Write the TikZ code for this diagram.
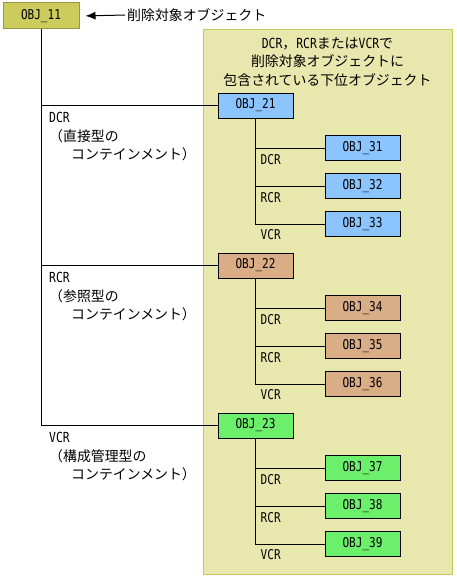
\documentclass[tikz,border=0pt]{standalone}
\usepackage{fontspec}
\usetikzlibrary{arrows.meta}
\newfontfamily\jfont{Noto Sans CJK JP}
\newfontfamily\lfont[FakeStretch=0.82]{DejaVu Sans Mono}
\newcommand\lt[1]{{\lfont #1}}
\definecolor{oliveA}{RGB}{204,204,92}
\definecolor{oliveB}{RGB}{150,150,70}
\definecolor{panelF}{RGB}{232,232,174}
\definecolor{panelD}{RGB}{200,200,90}
\definecolor{blueF}{RGB}{140,196,255}
\definecolor{brownF}{RGB}{217,173,134}
\definecolor{greenF}{RGB}{108,240,108}
\tikzset{
  txt/.style={font=\jfont\fontsize{13.9}{18.5}\selectfont, inner sep=0pt},
  objbox/.style={draw=black, line width=1pt, minimum width=75pt, minimum height=25pt, inner sep=0pt, font=\lfont\fontsize{13.5}{16}\selectfont},
  conn/.style={draw=black, line width=1pt},
  lbl/.style={txt, anchor=west},
  side/.style={txt, anchor=north west, align=left}
}
\begin{document}
\begin{tikzpicture}[x=1pt,y=-1pt]
\useasboundingbox (0,0) rectangle (457,578);
% panel
\draw[fill=panelF, draw=panelD, line width=1pt] (203.5,29.5) rectangle (452,574);
\node[txt, align=center] (title) at (327.5,62) {\lt{DCR}，\lt{RCR}または\lt{VCR}で\\削除対象オブジェクトに\\包含されている下位オブジェクト};
% top object
\node[objbox, fill=oliveA, draw=oliveB, minimum width=76pt, minimum height=26pt] (O11) at (41,16) {OBJ\_11};
\node[lbl] (del) at (127,15) {削除対象オブジェクト};
\draw[conn, -{Latex[length=10pt,width=8pt]}, shorten >=6pt, shorten <=2pt] (del.west) -- (O11.east);
% level 1
\node[objbox, fill=blueF] (O21) at (255.5,105.5) {OBJ\_21};
\node[objbox, fill=brownF] (O22) at (255.5,265.5) {OBJ\_22};
\node[objbox, fill=greenF] (O23) at (255.5,425.5) {OBJ\_23};
\draw[conn] (O11.south) |- (O23.west);
\draw[conn] (O11.south |- O21.west) -- (O21.west);
\draw[conn] (O11.south |- O22.west) -- (O22.west);
\node[side] (s1) at (49,112) {\lt{DCR}\\（直接型の\\\hspace{22pt}コンテインメント）};
\node[side] (s2) at (49,272) {\lt{RCR}\\（参照型の\\\hspace{22pt}コンテインメント）};
\node[side] (s3) at (49,432) {\lt{VCR}\\（構成管理型の\\\hspace{22pt}コンテインメント）};
% level 2
\node[objbox, fill=blueF] (O31) at (362.5,148) {OBJ\_31};
\node[objbox, fill=blueF] (O32) at (362.5,186) {OBJ\_32};
\node[objbox, fill=blueF] (O33) at (362.5,224) {OBJ\_33};
\node[objbox, fill=brownF] (O34) at (362.5,308) {OBJ\_34};
\node[objbox, fill=brownF] (O35) at (362.5,346) {OBJ\_35};
\node[objbox, fill=brownF] (O36) at (362.5,384) {OBJ\_36};
\node[objbox, fill=greenF] (O37) at (362.5,468) {OBJ\_37};
\node[objbox, fill=greenF] (O38) at (362.5,506) {OBJ\_38};
\node[objbox, fill=greenF] (O39) at (362.5,544) {OBJ\_39};
\foreach \p/\a/\b/\c in {O21/O31/O32/O33, O22/O34/O35/O36, O23/O37/O38/O39}{
  \draw[conn] (\p.south) |- (\c.west);
  \draw[conn] (\p.south |- \a.west) -- (\a.west);
  \draw[conn] (\p.south |- \b.west) -- (\b.west);
  \node[lbl, font=\lfont\fontsize{13.5}{16}\selectfont] (\a-l) at ([xshift=5pt,yshift=-12pt]\p.south |- \a.west) {DCR};
  \node[lbl, font=\lfont\fontsize{13.5}{16}\selectfont] (\b-l) at ([xshift=5pt,yshift=-12pt]\p.south |- \b.west) {RCR};
  \node[lbl, font=\lfont\fontsize{13.5}{16}\selectfont] (\c-l) at ([xshift=5pt,yshift=-11pt]\p.south |- \c.west) {VCR};
}
\end{tikzpicture}
\end{document}
